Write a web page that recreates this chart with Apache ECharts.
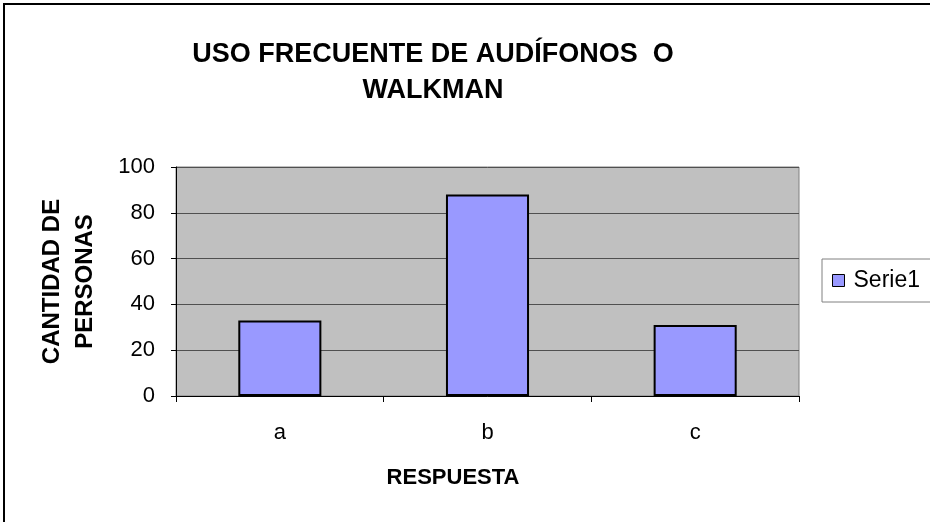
<!DOCTYPE html>
<html>
<head>
<meta charset="utf-8">
<script src="https://cdn.jsdelivr.net/npm/echarts@6/dist/echarts.min.js"></script>
<style>
html, body { margin: 0; padding: 0; background: #fff; }
#chart { width: 930px; height: 522px; }
</style>
</head>
<body>
<div id="chart"></div>
<script>
var categories = ['a', 'b', 'c'];
var serie1 = [33, 88, 31];
var yTicks = [0, 20, 40, 60, 80, 100];

var font = '"Liberation Sans", Arial, sans-serif';
var myChart = echarts.init(document.getElementById('chart'));

var option = {
    backgroundColor: '#ffffff',
    animation: false,
    title: [
        {
            text: 'USO FRECUENTE DE AUDÍFONOS  O\nWALKMAN',
            left: 428,
            top: 32,
            textAlign: 'center',
            textStyle: {
                fontFamily: font,
                fontSize: 27,
                fontWeight: 'bold',
                color: '#000',
                lineHeight: 36
            }
        },
        {
            text: 'RESPUESTA',
            left: 448,
            top: 462,
            textAlign: 'center',
            textStyle: {
                fontFamily: font,
                fontSize: 22,
                fontWeight: 'bold',
                color: '#000'
            }
        }
    ],
    graphic: [
        {
            type: 'rect',
            shape: { x: 4, y: 4, width: 950, height: 550 },
            style: { fill: 'none', stroke: '#000', lineWidth: 2 },
            silent: true
        }
    ],
    legend: {
        data: ['Serie1'],
        left: 822,
        top: 259,
        orient: 'vertical',
        padding: [10, 20, 10, 10],
        borderColor: '#808080',
        borderWidth: 1,
        icon: 'rect',
        itemWidth: 12,
        itemHeight: 12,
        itemGap: 6,
        itemStyle: { borderColor: '#000', borderWidth: 1 },
        textStyle: { fontFamily: font, fontSize: 23, color: '#000', padding: [0, 0, 0, 4] }
    },
    grid: {
        left: 176,
        top: 167,
        right: 131,
        bottom: 126,
        show: true,
        backgroundColor: '#c0c0c0',
        borderColor: '#808080',
        borderWidth: 1
    },
    xAxis: {
        type: 'category',
        data: categories,
        axisLine: { lineStyle: { color: '#000', width: 1 } },
        axisTick: { show: true, length: 6, lineStyle: { color: '#000' } },
        axisLabel: { fontFamily: font, fontSize: 22, color: '#000', margin: 26 },
        splitLine: { show: false }
    },
    yAxis: {
        type: 'value',
        min: yTicks[0],
        max: yTicks[yTicks.length - 1],
        interval: 20,
        name: 'CANTIDAD DE\nPERSONAS',
        nameLocation: 'middle',
        nameGap: 74,
        nameTextStyle: {
            fontFamily: font,
            fontSize: 24,
            fontWeight: 'bold',
            color: '#000',
            lineHeight: 33
        },
        axisLine: { show: true, lineStyle: { color: '#000', width: 1 } },
        axisTick: { show: true, length: 5, lineStyle: { color: '#000' } },
        axisLabel: { fontFamily: font, fontSize: 22, color: '#000', margin: 21 },
        splitLine: { show: true, lineStyle: { color: '#505050', width: 1 } }
    },
    series: [
        {
            name: 'Serie1',
            type: 'bar',
            data: serie1,
            barWidth: '40%',
            itemStyle: {
                color: '#9999ff',
                borderColor: '#000',
                borderWidth: 2
            }
        }
    ]
};
myChart.setOption(option);
</script>
</body>
</html>
